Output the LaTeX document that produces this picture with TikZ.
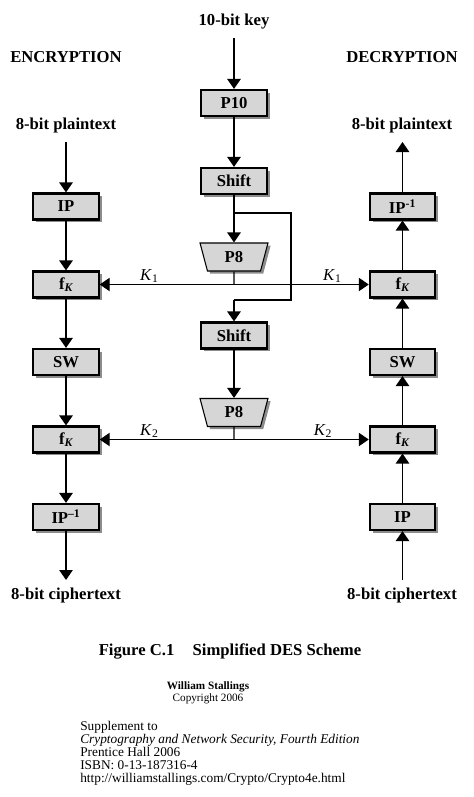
\documentclass[tikz,border=0pt]{standalone}
\usepackage{fontspec}
\setmainfont{Liberation Serif}
\usetikzlibrary{arrows.meta,shapes.geometric,shadows}
\definecolor{boxgray}{RGB}{214,214,214}
\definecolor{shadegray}{RGB}{140,140,140}
\tikzset{
  boxfont/.style={font=\bfseries\fontsize{12.5}{15}\selectfont},
  stage/.style={boxfont, draw, line width=1.6pt, fill=boxgray,
    minimum width=49pt, minimum height=19.5pt, inner sep=0pt,
    drop shadow={shadow xshift=2.2pt, shadow yshift=-2.2pt, fill=shadegray, opacity=1}},
  perm/.style={boxfont, trapezium, shape border rotate=180, trapezium stretches=true,
    trapezium angle=77, draw, line width=0.8pt, fill=boxgray,
    minimum width=51pt, minimum height=21pt, inner sep=0pt,
    drop shadow={shadow xshift=2pt, shadow yshift=-2pt, fill=shadegray, opacity=1}},
  lbl/.style={boxfont, inner sep=1pt},
  klbl/.style={font=\fontsize{12.5}{15}\selectfont, inner sep=1pt},
  flow/.style={line width=1.3pt, -{Triangle[length=7.5pt,width=10pt]}},
  keyline/.style={line width=1pt},
}
\begin{document}
\begin{tikzpicture}[x=0.75pt, y=-0.75pt]
      \useasboundingbox (0,0) rectangle (474,797);
      % headings and end labels
      \draw
        (234,22) node[lbl] (key){10-bit key}
        (66,57) node[lbl] (enc){ENCRYPTION}
        (402,57) node[lbl] (dec){DECRYPTION}
        (66,125) node[lbl] (ptL){8-bit plaintext}
        (402,125) node[lbl] (ptR){8-bit plaintext}
        (66,595) node[lbl] (ctL){8-bit ciphertext}
        (402,595) node[lbl] (ctR){8-bit ciphertext};
      % key generation
      \draw
        (234,103) node[stage] (p10){P10}
        (234,181) node[stage] (shA){Shift}
        (234,257) node[perm] (p8A){P8}
        (234,335.5) node[stage] (shB){Shift}
        (234,412.5) node[perm] (p8B){P8};
      % encryption
      \draw
        (66,206.5) node[stage] (ipL){IP}
        (66,284.5) node[stage] (fkL1){f\textsubscript{\itshape K}}
        (66,362) node[stage] (swL){SW}
        (66,439.5) node[stage] (fkL2){f\textsubscript{\itshape K}}
        (66,517) node[stage] (ipiL){IP\textsuperscript{--1}};
      % decryption
      \draw
        (402.5,206.5) node[stage] (ipiR){IP\textsuperscript{-1}}
        (402.5,284.5) node[stage] (fkR1){f\textsubscript{\itshape K}}
        (402.5,362) node[stage] (swR){SW}
        (402.5,439.5) node[stage] (fkR2){f\textsubscript{\itshape K}}
        (402.5,517) node[stage] (ipR){IP};
      % free ends and bends
      \coordinate (keyin) at (234,38);
      \coordinate (inL) at (66,142);
      \coordinate (outL) at (66,580);
      \coordinate (outR) at (402.5,142);
      \coordinate (inR) at (402.5,580);
      \coordinate (split) at (234,213);
      \coordinate (loopA) at (291,213);
      \coordinate (loopB) at (291,300);
      \coordinate (loopC) at (234,300);
      \coordinate (k1) at (234,284.5);
      \coordinate (k2) at (234,439.5);
      \begin{scope}[flow]
        \draw (keyin) to (p10);
        \draw (p10) to (shA);
        \draw (shA) to (p8A);
        \draw (loopC) to (shB);
        \draw (shB) to (p8B);
        \draw (inL) to (ipL);
        \draw (ipL) to (fkL1);
        \draw (fkL1) to (swL);
        \draw (swL) to (fkL2);
        \draw (fkL2) to (ipiL);
        \draw (ipiL) to (outL);
        \draw (inR) to (ipR);
        \draw (ipR) to (fkR2);
        \draw (fkR2) to (swR);
        \draw (swR) to (fkR1);
        \draw (fkR1) to (ipiR);
        \draw (ipiR) to (outR);
      \end{scope}
      \begin{scope}[keyline]
        \draw (split) -- (loopA) -- (loopB) -- (loopC);
        \draw (p8A) -- (k1);
        \draw (p8B) -- (k2);
        \draw[flow, line width=1pt] (k1) -- (fkL1) node[klbl, pos=0.63, above] (k1L){\textit{K}\textsubscript{1}};
        \draw[flow, line width=1pt] (k1) -- (fkR1) node[klbl, pos=0.73, above] (k1R){\textit{K}\textsubscript{1}};
        \draw[flow, line width=1pt] (k2) -- (fkL2) node[klbl, pos=0.63, above] (k2L){\textit{K}\textsubscript{2}};
        \draw[flow, line width=1pt] (k2) -- (fkR2) node[klbl, pos=0.66, above] (k2R){\textit{K}\textsubscript{2}};
      \end{scope}
      % caption and credits
      \node[boxfont] (cap) at (230,651) {Figure C.1\hspace{1.1em}Simplified DES Scheme};
      \node[align=center, inner sep=0pt, font=\fontsize{8.4}{9}\selectfont] (auth) at (208,693)
        {\textbf{William Stallings}\\Copyright 2006};
      \node[align=left, anchor=north west, inner sep=0pt, font=\fontsize{10}{9.75}\selectfont] (supp) at (80,721)
        {Supplement to\\\textit{Cryptography and Network Security, Fourth Edition}\\Prentice Hall 2006\\ISBN: 0-13-187316-4\\http://williamstallings.com/Crypto/Crypto4e.html};
    \end{tikzpicture}
\end{document}
